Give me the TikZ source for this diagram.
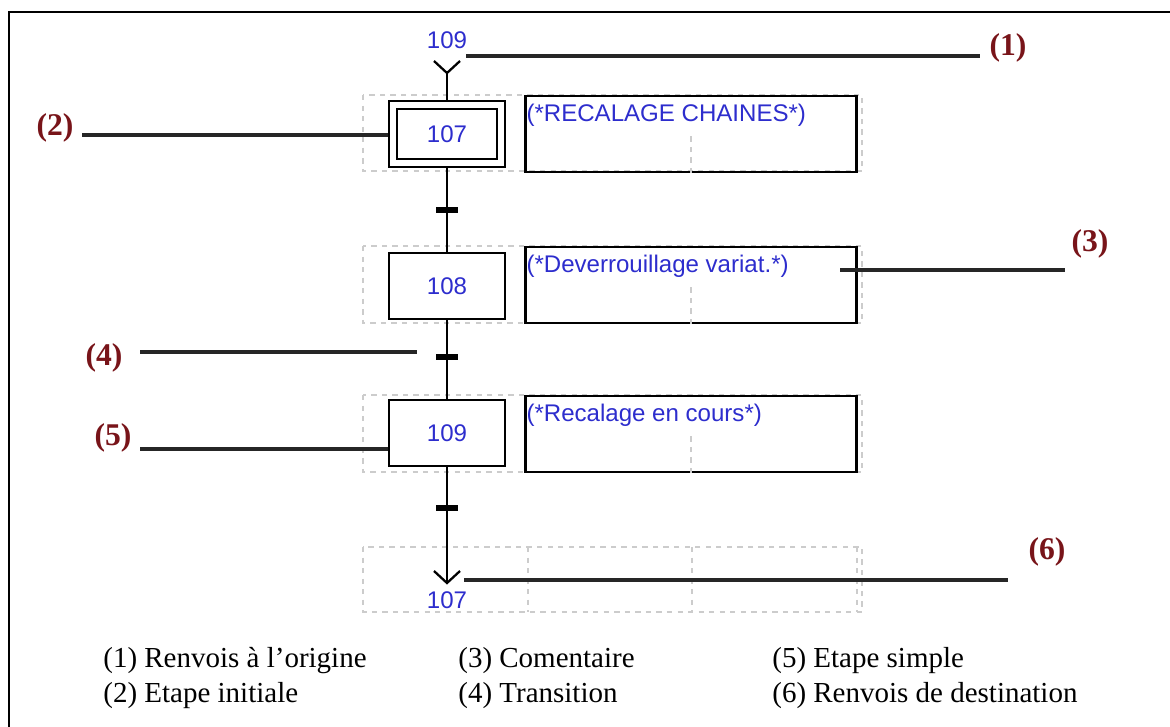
\documentclass[tikz,border=0pt]{standalone}
\usepackage{fontspec}
\setmainfont{Liberation Serif}
\newfontfamily\arialfont{Liberation Sans}

\definecolor{grafblue}{RGB}{45,45,205}
\definecolor{callred}{RGB}{120,20,25}

\tikzset{
  stepbox/.style={draw, line width=1.3pt, minimum width=2.32cm, minimum height=1.32cm,
    inner sep=0pt, text=grafblue, font=\arialfont\fontsize{13.7}{15}\selectfont},
  combox/.style={draw, line width=1.3pt, minimum width=6.62cm, minimum height=1.52cm, inner sep=0pt},
  comtext/.style={anchor=north west, inner xsep=1pt, inner ysep=5pt, text=grafblue,
    font=\arialfont\fontsize{13.7}{15}\selectfont},
  reftext/.style={text=grafblue, inner sep=0pt, font=\arialfont\fontsize{13.7}{15}\selectfont},
  gridline/.style={gray!40, dash pattern=on 3pt off 3pt, line width=0.6pt},
  link/.style={line width=1.3pt},
  callout/.style={line width=2.2pt, black!85},
  calllabel/.style={text=callred, inner sep=0pt, font=\bfseries\fontsize{18}{20}\selectfont},
  legend/.style={anchor=west, inner sep=0pt, font=\fontsize{16.5}{18}\selectfont}
}

\begin{document}
\begin{tikzpicture}[x=0.02cm, y=-0.02cm]
    \useasboundingbox (0,0) rectangle (1170,727);
    \draw[line width=1.7pt] (9,727) -- (9,12) -- (1170,12);

    % dashed grid of the editor
    \foreach \top/\bot in {95/171, 246/323, 395/472, 547/612}
        \draw[gridline] (363,\top) rectangle (862,\bot);
    \foreach \x in {528, 692, 857}
        \draw[gridline] (\x,547) -- (\x,612);

    % steps and comments
    \node[stepbox] (s107) at (447,134) {107};
    \draw[link] ([shift={(0.18cm,-0.18cm)}]s107.north west) rectangle ([shift={(-0.18cm,0.18cm)}]s107.south east);
    \node[stepbox] (s108) at (447,286) {108};
    \node[stepbox] (s109) at (447,433) {109};

    \node[combox] (c107) at (691,134) {};
    \node[combox] (c108) at (691,285) {};
    \node[combox] (c109) at (691,434) {};
    \foreach \c in {c107, c108, c109}
        \draw[gridline] (\c.south) -- (\c.center);
    \node[comtext] at (c107.north west) {(*RECALAGE CHAINES*)};
    \node[comtext] at (c108.north west) {(*Deverrouillage variat.*)};
    \node[comtext] at (c109.north west) {(*Recalage en cours*)};

    % links, transitions, jumps
    \coordinate (vtop) at (447,73);
    \coordinate (vbot) at (447,583);
    \node[reftext] (top109) at (447,40) {109};
    \node[reftext] (bot107) at (447,600) {107};
    \draw[link] (434,61) -- (vtop) -- (460,61);
    \draw[link] (434,571) -- (vbot) -- (460,571);
    \draw[link] (vtop) -- (s107.north);
    \draw[link] (s107.south) -- (s108.north);
    \draw[link] (s108.south) -- (s109.north);
    \draw[link] (s109.south) -- (vbot);
    \foreach \y in {210, 357, 508}
        \draw[line width=3pt] (436,\y) -- (458,\y);

    % callouts
    \node[calllabel] (n1) at (1008,48) {(1)};
    \node[calllabel] (n2) at (55,128) {(2)};
    \node[calllabel] (n3) at (1090,244) {(3)};
    \node[calllabel] (n4) at (104,358) {(4)};
    \node[calllabel] (n5) at (113,438) {(5)};
    \node[calllabel] (n6) at (1047,552) {(6)};
    \coordinate (a1) at (466,56);  \coordinate (b1) at (980,56);
    \coordinate (a2) at (82,135);
    \coordinate (a3) at (840,270); \coordinate (b3) at (1065,270);
    \coordinate (a4) at (140,352); \coordinate (b4) at (417,352);
    \coordinate (a5) at (140,449);
    \coordinate (a6) at (464,580); \coordinate (b6) at (1008,580);
    \draw[callout] (a1) -- (b1);
    \draw[callout] (a2) -- (a2 -| s107.west);
    \draw[callout] (a3) -- (b3);
    \draw[callout] (a4) -- (b4);
    \draw[callout] (a5) -- (a5 -| s109.west);
    \draw[callout] (a6) -- (b6);

    % legend
    \node[legend] (l1) at (103,661) {(1) Renvois à l'origine};
    \node[legend] (l2) at (103,696) {(2) Etape initiale};
    \node[legend] (l3) at (458,661) {(3) Comentaire};
    \node[legend] (l4) at (458,696) {(4) Transition};
    \node[legend] (l5) at (772,661) {(5) Etape simple};
    \node[legend] (l6) at (772,696) {(6) Renvois de destination};
\end{tikzpicture}
\end{document}
